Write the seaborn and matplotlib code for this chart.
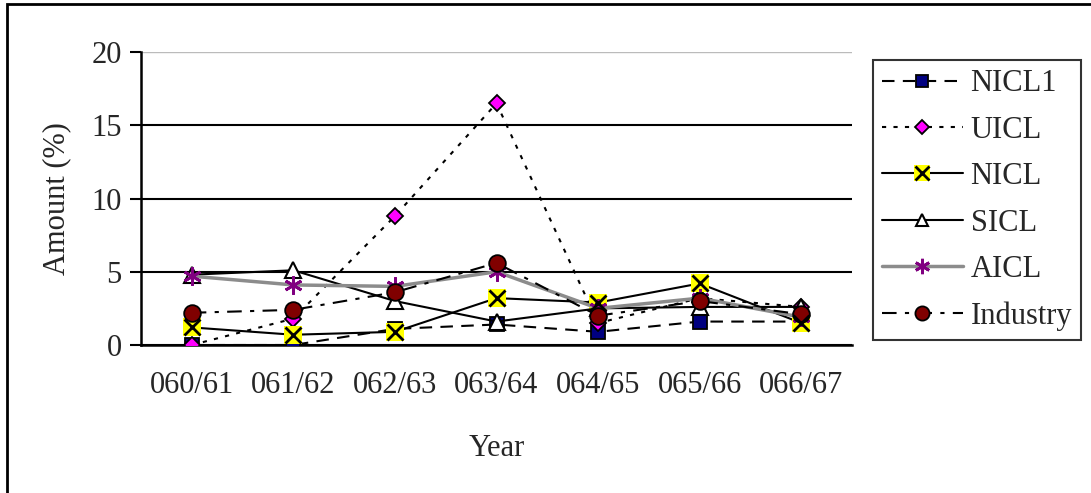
import matplotlib
matplotlib.use("Agg")
import matplotlib.pyplot as plt
import seaborn as sns
import pandas as pd
from matplotlib.lines import Line2D
from matplotlib.legend_handler import HandlerTuple
from matplotlib.patches import Rectangle

years = ["060/61", "061/62", "062/63", "063/64", "064/65", "065/66", "066/67"]
nicl1 = [0.0, 0.0, 1.1, 1.4, 0.9, 1.6, 1.6]
uicl = [0.0, 1.8, 8.8, 16.5, 1.5, 3.2, 2.6]
nicl = [1.2, 0.7, 0.9, 3.2, 2.9, 4.2, 1.5]
sicl = [4.8, 5.1, 3.0, 1.6, 2.5, 2.6, 2.6]
aicl = [4.7, 4.1, 4.0, 5.0, 2.5, 3.2, 1.9]
industry = [2.2, 2.4, 3.6, 5.6, 2.0, 3.0, 2.1]

sns.set_theme(style="white")
plt.rcParams["font.family"] = ["Liberation Serif", "DejaVu Serif"]
FS = 22

fig = plt.figure(figsize=(10.91, 4.93), dpi=100)
ax = fig.add_axes([0.1292, 0.3002, 0.781 - 0.1292, 0.8945 - 0.3002])

pos = list(range(len(years)))
df = pd.DataFrame({"pos": pos})

styles = [
    ("NICL1", nicl1, dict(color="black", lw=1.5, ls=(0, (6, 4)), marker="s", ms=10,
                          mfc="#000080", mec="black", mew=1.3)),
    ("UICL", uicl, dict(color="black", lw=1.5, ls=(0, (2, 3.5)), marker="D", ms=8,
                        mfc="#FF00FF", mec="black", mew=1.3)),
    ("NICL", nicl, dict(color="black", lw=1.5, ls="-", marker="s", ms=13,
                        mfc="#FFFF00", mec="#FFFF00", mew=0)),
    ("SICL", sicl, dict(color="black", lw=1.5, ls="-", marker="^", ms=11,
                        mfc="white", mec="black", mew=1.5)),
    ("AICL", aicl, dict(color="#8c8c8c", lw=2.5, ls="-", marker=(6, 2, 0), ms=13,
                        mfc="#800080", mec="#800080", mew=2)),
    ("Industry", industry, dict(color="black", lw=1.5, ls=(0, (7, 4, 2, 4)), marker="o", ms=12,
                                mfc="#800000", mec="black", mew=1.3)),
]

handles = []
labels = []
for name, vals, kw in styles:
    d = df.assign(v=vals)
    sns.lineplot(data=d, x="pos", y="v", ax=ax, color=kw["color"], linewidth=kw["lw"],
                 linestyle=kw["ls"], marker=kw["marker"], markersize=kw["ms"],
                 markerfacecolor=kw["mfc"], markeredgecolor=kw["mec"],
                 markeredgewidth=kw["mew"], legend=False, zorder=3)
    h = Line2D([], [], color=kw["color"], lw=kw["lw"], ls=kw["ls"], marker=kw["marker"],
               ms=kw["ms"] * 0.85, mfc=kw["mfc"], mec=kw["mec"], mew=kw["mew"])
    if name == "NICL":
        d2 = df.assign(v=vals)
        sns.lineplot(data=d2, x="pos", y="v", ax=ax, color="black", linewidth=0,
                     marker="x", markersize=11, markeredgewidth=2,
                     markeredgecolor="black", legend=False, zorder=4)
        hx = Line2D([], [], lw=0, marker="x", ms=9.5, mec="black", mew=2)
        h = (h, hx)
    handles.append(h)
    labels.append(name)

ax.set_xlim(-0.5, len(years) - 0.5)
ax.set_ylim(0, 20)
ax.set_yticks([0, 5, 10, 15, 20])
ax.set_xticks(pos)
ax.set_xticklabels(years, fontsize=FS)
ax.set_xticks([p - 0.5 for p in pos] + [len(years) - 0.5], minor=True)
ax.tick_params(axis="x", which="major", length=0, pad=19)
ax.tick_params(axis="x", which="minor", length=8, width=1.5, color="black", direction="out")
ax.tick_params(axis="y", which="major", length=8, width=1.5, color="black",
               direction="out", labelsize=FS, pad=6, left=True)
ax.yaxis.grid(True, color="black", lw=1.5)
ax.xaxis.grid(False)
gl = ax.get_ygridlines()
gl[-1].set_color("#bbbbbb")
gl[-1].set_linewidth(1)
for s in ["left", "bottom"]:
    ax.spines[s].set_color("black")
    ax.spines[s].set_linewidth(1.8)
ax.spines["right"].set_visible(False)
ax.spines["top"].set_visible(False)
ax.set_axisbelow(True)

ax.set_xlabel("Year", fontsize=FS, labelpad=24)
ax.set_ylabel("Amount (%)", fontsize=FS, labelpad=14)

leg = fig.legend(handles, labels, loc="upper left", bbox_to_anchor=(0.800, 0.878),
                 fontsize=FS, frameon=True, fancybox=False, edgecolor="black",
                 labelspacing=0.57, handlelength=2.65, handletextpad=0.25,
                 borderpad=0.3, borderaxespad=0,
                 handler_map={tuple: HandlerTuple(ndivide=1)})
leg.get_frame().set_linewidth(1.5)

fig.patches.append(Rectangle((7 / 1091, -0.05), 1.1, 1.05 - 4 / 493,
                             transform=fig.transFigure, fill=False, edgecolor="black",
                             lw=2, zorder=0))

fig.savefig("out.png", dpi=100)
